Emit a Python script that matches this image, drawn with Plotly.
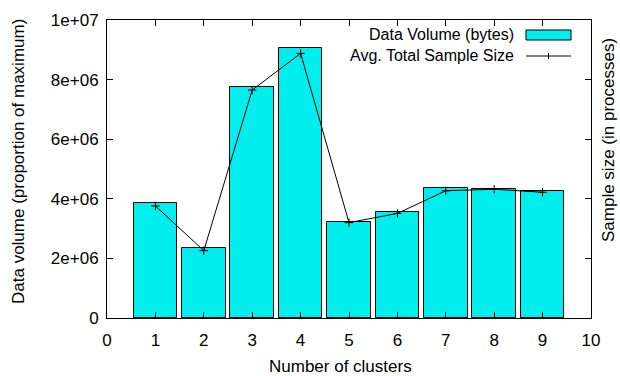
import plotly.graph_objects as go

clusters = [1, 2, 3, 4, 5, 6, 7, 8, 9]
data_volume = [3.87e6, 2.34e6, 7.76e6, 9.05e6, 3.22e6, 3.55e6, 4.35e6, 4.34e6, 4.25e6]
avg_sample_size = [3.76e6, 2.26e6, 7.65e6, 8.88e6, 3.20e6, 3.51e6, 4.27e6, 4.32e6, 4.22e6]

y_ticks = [0, 2e6, 4e6, 6e6, 8e6, 1e7]
y_tick_text = ["0", "2e+06", "4e+06", "6e+06", "8e+06", "1e+07"]
x_ticks = list(range(0, 11))

FONT = "Liberation Sans, Arial, sans-serif"
CYAN = "#00EEEE"
FS = 17

W, H = 620, 376
L, R, T, B = 107, 29, 20, 58
pw, ph = W - L - R, H - T - B


def fx(x):
    # pixel column -> paper fraction of the plot area
    return (x - L) / pw


def fy(y):
    # pixel row -> paper fraction of the plot area
    return 1 - (y - T) / ph


fig = go.Figure()
fig.add_trace(go.Bar(
    x=clusters, y=data_volume, width=0.9,
    marker=dict(color=CYAN, line=dict(color="black", width=1)),
    name="Data Volume (bytes)", showlegend=False,
))
fig.add_trace(go.Scatter(
    x=clusters, y=avg_sample_size, mode="lines+markers",
    line=dict(color="black", width=1),
    marker=dict(symbol="cross-thin", size=6, line=dict(color="black", width=1)),
    name="Avg. Total Sample Size", showlegend=False,
))

txt = dict(family=FONT, size=FS, color="black")

# gnuplot-style key: text on the left, sample on the right
fig.add_annotation(xref="paper", yref="paper", x=fx(516), y=fy(35),
                   text="Data Volume (bytes)", showarrow=False, xanchor="right",
                   yanchor="middle", font=dict(family=FONT, size=16, color="black"))
fig.add_annotation(xref="paper", yref="paper", x=fx(516), y=fy(55),
                   text="Avg. Total Sample Size", showarrow=False, xanchor="right",
                   yanchor="middle", font=dict(family=FONT, size=16, color="black"))

shapes = [
    dict(type="rect", xref="paper", yref="paper", x0=fx(526), x1=fx(571),
         y0=fy(40), y1=fy(30), fillcolor=CYAN, line=dict(color="black", width=1)),
    dict(type="line", xref="paper", yref="paper", x0=fx(526), x1=fx(571),
         y0=fy(56), y1=fy(56), line=dict(color="black", width=1)),
    dict(type="line", xref="paper", yref="paper", x0=fx(548.5), x1=fx(548.5),
         y0=fy(53), y1=fy(59), line=dict(color="black", width=1)),
]

# axis titles
fig.add_annotation(xref="paper", yref="paper", x=fx(340), y=fy(366),
                   text="Number of clusters", showarrow=False,
                   xanchor="center", yanchor="middle", font=txt)
fig.add_annotation(xref="paper", yref="paper", x=fx(18), y=fy(162),
                   text="Data volume (proportion of maximum)", showarrow=False,
                   textangle=-90, xanchor="center", yanchor="middle", font=txt)
fig.add_annotation(xref="paper", yref="paper", x=fx(608), y=fy(140),
                   text="Sample size (in processes)", showarrow=False,
                   textangle=-90, xanchor="center", yanchor="middle", font=txt)

fig.update_layout(
    width=W, height=H,
    margin=dict(l=L, r=R, t=T, b=B, pad=0),
    paper_bgcolor="white", plot_bgcolor="white",
    font=dict(family=FONT, size=FS, color="black"),
    shapes=shapes,
    bargap=0,
    xaxis=dict(
        range=[0, 10], tickvals=x_ticks, ticks="inside", ticklen=6, tickcolor="black",
        showline=True, linecolor="black", linewidth=1, mirror="allticks",
        showgrid=False, zeroline=False, tickfont=txt, ticklabelstandoff=7,
    ),
    yaxis=dict(
        range=[0, 1e7], tickvals=y_ticks, ticktext=y_tick_text, ticks="inside",
        ticklen=6, tickcolor="black", showline=True, linecolor="black", linewidth=1,
        mirror="allticks", showgrid=False, zeroline=False, tickfont=txt,
        ticklabelstandoff=4,
    ),
)

fig.write_html("out.html")
